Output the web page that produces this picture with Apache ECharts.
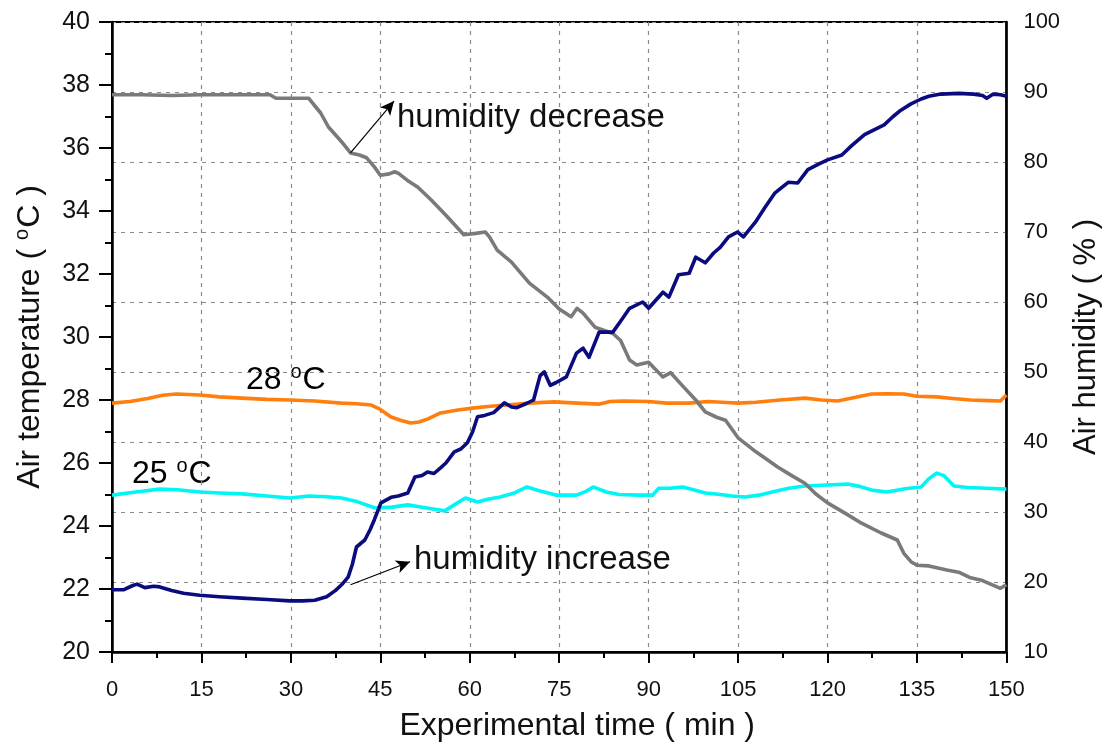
<!DOCTYPE html>
<html>
<head>
<meta charset="utf-8">
<script src="https://cdn.jsdelivr.net/npm/echarts@6/dist/echarts.min.js"></script>
<style>html,body{margin:0;padding:0;background:#fff}#c{width:1110px;height:749px}</style>
</head>
<body>
<div id="c"></div>
<script>
// ---- data ----
const xTicks = [0,15,30,45,60,75,90,105,120,135,150];
// humidity decrease (right axis, %)
const grayT = [0,5,10,15,20,26.5,27.5,33,35,36.3,38.5,40,41.5,42.7,44,45,46.5,47.4,48,49.5,51.3,53.5,56,59,61,62.6,63.3,64.6,67,70,73,75,77,78,79,81,84,85.3,86.8,88,90,91,92.4,93.7,95.5,97.9,99.5,101.5,102.9,105,108,111.7,114,116.2,118,120,123,125.7,129,131.7,132.8,134,135,137,140,142,144,146,149,150];
const grayH = [89.6,89.6,89.5,89.6,89.6,89.6,89.1,89.1,87.0,85.0,82.9,81.3,81.0,80.6,79.3,78.1,78.3,78.6,78.4,77.4,76.4,74.6,72.4,69.6,69.8,70.0,69.3,67.4,65.7,62.7,60.7,59.0,57.9,59.1,58.4,56.4,55.5,54.5,51.7,51.0,51.4,50.5,49.3,49.9,48.2,46.0,44.3,43.5,43.1,40.6,38.6,36.4,35.2,34.1,32.6,31.3,29.8,28.4,27.0,26.0,24.1,22.9,22.4,22.3,21.7,21.4,20.6,20.2,19.1,19.6];
// humidity increase (right axis, %)
const navyT = [0,2,3.5,4.2,5.5,7,8,10,12,14.7,18,21.8,26,29.8,32,34,36,37.5,38.5,39.6,40.3,41,42.4,43.3,44,45.1,46.8,48,49.6,50.8,52,52.9,54,55.1,56,57.4,58.5,59.6,60.5,61.3,62.5,64,65.8,67,67.9,69.5,70.7,71.8,72.5,73.5,74.5,76.2,77.9,79,80,81.7,84,85.5,86.8,89,90,92.4,93.4,95,96.8,97.9,99.5,100.9,102,103.4,104.9,105.9,107.9,109.5,111.2,113.4,115,116.7,118.5,120,122.4,124,126.2,127.8,129.5,131,132.3,134,135.7,137,139,142,144.5,146,146.7,147.8,149,150];
const navyH = [18.9,18.9,19.5,19.7,19.2,19.4,19.3,18.8,18.4,18.1,17.9,17.7,17.5,17.3,17.3,17.4,17.9,18.8,19.6,20.7,22.5,25.0,26.0,27.5,28.9,31.3,32.1,32.3,32.7,35.0,35.2,35.7,35.5,36.3,37.0,38.6,39.0,39.9,41.5,43.6,43.8,44.2,45.6,45.0,44.9,45.5,46.0,49.5,50.0,48.1,48.5,49.3,52.7,53.4,52.1,55.7,55.7,57.5,59.1,60.0,59.1,61.4,60.7,63.9,64.1,66.4,65.6,67.0,67.8,69.3,70.0,69.3,71.4,73.5,75.6,77.1,77.0,78.9,79.7,80.3,81.0,82.3,83.9,84.6,85.3,86.5,87.4,88.3,89.0,89.4,89.7,89.8,89.7,89.5,89.1,89.7,89.6,89.4];
// 28 °C air temperature (left axis)
const orangeT = [0,3,6,8.5,10.8,14.7,18,21.8,26,29.8,34,38.5,41,43.5,45,46.8,48.5,50.1,51.5,53,55.1,58,60.8,63.5,66.3,70,74.1,78,81.8,83.5,85.7,90,93,96.7,100,103,105,108,112,116.2,119,121.7,124.5,127.4,130,132.8,135,138.3,141,144,147,149,150];
const orangeV = [27.9,27.95,28.05,28.15,28.19,28.16,28.1,28.06,28.02,28.0,27.97,27.9,27.88,27.84,27.7,27.46,27.35,27.27,27.3,27.4,27.59,27.68,27.75,27.8,27.84,27.9,27.94,27.9,27.87,27.95,27.97,27.95,27.9,27.9,27.95,27.92,27.9,27.93,28.0,28.06,28.0,27.97,28.08,28.19,28.2,28.19,28.12,28.1,28.05,28.0,27.98,27.97,28.16];
// 25 °C air temperature (left axis)
const cyanT = [0,4,8,11,14.7,18,21.8,26,29.8,33,36,38.5,41,44.1,47,49.6,52.5,55.8,57.4,59.3,61.3,63,65.1,67.5,69.6,72,74.6,77.9,79.5,80.7,82.9,85,88.4,90.7,91.7,93.5,95.7,97.5,99.5,102,104,106.2,108.5,110.7,113.5,116.2,120,123.4,125.5,127.4,130,133,135.7,137,138.3,139.5,141.2,143.5,146.7,150];
const cyanV = [24.98,25.08,25.17,25.15,25.08,25.05,25.02,24.95,24.89,24.95,24.93,24.89,24.78,24.57,24.6,24.67,24.58,24.48,24.67,24.89,24.76,24.85,24.92,25.05,25.24,25.1,24.98,24.98,25.1,25.24,25.08,25.0,24.98,24.98,25.2,25.2,25.24,25.15,25.05,25.0,24.95,24.92,24.98,25.08,25.2,25.27,25.3,25.33,25.25,25.14,25.08,25.18,25.24,25.5,25.68,25.6,25.27,25.22,25.2,25.17];
// annotation arrows (data coordinates on the humidity axis)
const decArrow = [[40,81.3],[47.3,88.7]];
const incArrow = [[40,19.6],[50,22.9]];

const zip = (a,b) => a.map((v,i)=>[v,b[i]]);
const FONT = "'Liberation Sans', Arial, sans-serif";

const chart = echarts.init(document.getElementById('c'), null, {renderer:'canvas'});
const lineSeries = (name, t, v, color, yIdx, extra) => Object.assign({
  name, type:'line', data: zip(t,v), yAxisIndex:yIdx, showSymbol:false, symbol:'none',
  lineStyle:{color, width:3.6, join:'round'}, itemStyle:{color}, animation:false, z:3
}, extra||{});
const arrowLine = (pts) => ({
  silent:true, symbol:['none','arrow'], symbolSize:[10,14],
  lineStyle:{color:'#000', width:1.2, type:'solid'}, label:{show:false},
  data:[[{coord:pts[0]},{coord:pts[1]}]], animation:false
});
const supRich = (size) => ({a:{fontFamily:FONT, fontSize:size, color:'#111'}, s:{fontFamily:FONT, fontSize:Math.round(size*0.62), color:'#111', verticalAlign:'top', padding:[0,1,Math.round(size*0.5),0]}});

chart.setOption({
  animation:false,
  backgroundColor:'#fff',
  grid:{left:112, right:97, top:22, bottom:97, show:true, borderColor:'#000', borderWidth:2},
  xAxis:{
    type:'value', min:0, max:150, interval:15,
    name:'Experimental time ( min )', nameLocation:'middle', nameGap:58,
    nameTextStyle:{fontFamily:FONT, fontSize:32, color:'#111', padding:[0,0,0,36]},
    axisLine:{show:true, onZero:false, lineStyle:{color:'#000', width:2.5}},
    axisTick:{show:true, inside:false, length:11, lineStyle:{color:'#000', width:2}},
    minorTick:{show:true, splitNumber:2, length:6, lineStyle:{color:'#000', width:2}},
    axisLabel:{fontFamily:FONT, fontSize:22, color:'#111', margin:27,
      formatter:(v)=> xTicks.includes(v) ? String(v) : ''},
    splitLine:{show:true, lineStyle:{color:'#8a8a8a', width:1.2, type:[4,5]}}
  },
  yAxis:[{
    type:'value', min:20, max:40, interval:2, position:'left',
    name:'{a|Air temperature ( }{s|o}{a|C )}', nameLocation:'middle', nameGap:64, nameRotate:90,
    nameTextStyle:{rich:supRich(32)},
    axisLine:{show:true, lineStyle:{color:'#000', width:2.5}},
    axisTick:{show:true, inside:false, length:13, lineStyle:{color:'#000', width:2}},
    minorTick:{show:true, splitNumber:2, length:7, lineStyle:{color:'#000', width:2}},
    axisLabel:{fontFamily:FONT, fontSize:25, color:'#111', margin:22},
    splitLine:{show:false}
  },{
    type:'value', min:10, max:100, interval:10, position:'right',
    name:'Air humidity ( % )', nameLocation:'middle', nameGap:63, nameRotate:90,
    nameTextStyle:{fontFamily:FONT, fontSize:31, color:'#111'},
    axisLine:{show:true, lineStyle:{color:'#000', width:2.5}},
    axisTick:{show:false},
    axisLabel:{fontFamily:FONT, fontSize:22, color:'#111', margin:17},
    splitLine:{show:true, lineStyle:{color:'#8a8a8a', width:1.2, type:[4,5]}}
  }],
  series:[
    lineSeries('25 °C', cyanT, cyanV, '#00f5f5', 0),
    lineSeries('28 °C', orangeT, orangeV, '#ff7f0e', 0),
    lineSeries('humidity decrease', grayT, grayH, '#7a7a7a', 1, {markLine: arrowLine(decArrow)}),
    lineSeries('humidity increase', navyT, navyH, '#0b0b80', 1, {markLine: arrowLine(incArrow)})
  ],
  graphic:[
    {type:'text', left:397, top:101, style:{text:'humidity decrease', font:"33px 'Liberation Sans', Arial", fill:'#111'}},
    {type:'text', left:414, top:543, style:{text:'humidity increase', font:"33px 'Liberation Sans', Arial", fill:'#111'}},
    {type:'text', left:246, top:362, style:{text:'{a|28 }{s|o}{a|C}', rich:supRich(32)}},
    {type:'text', left:132, top:456, style:{text:'{a|25 }{s|o}{a|C}', rich:supRich(32)}}
  ]
});
</script>
</body>
</html>
